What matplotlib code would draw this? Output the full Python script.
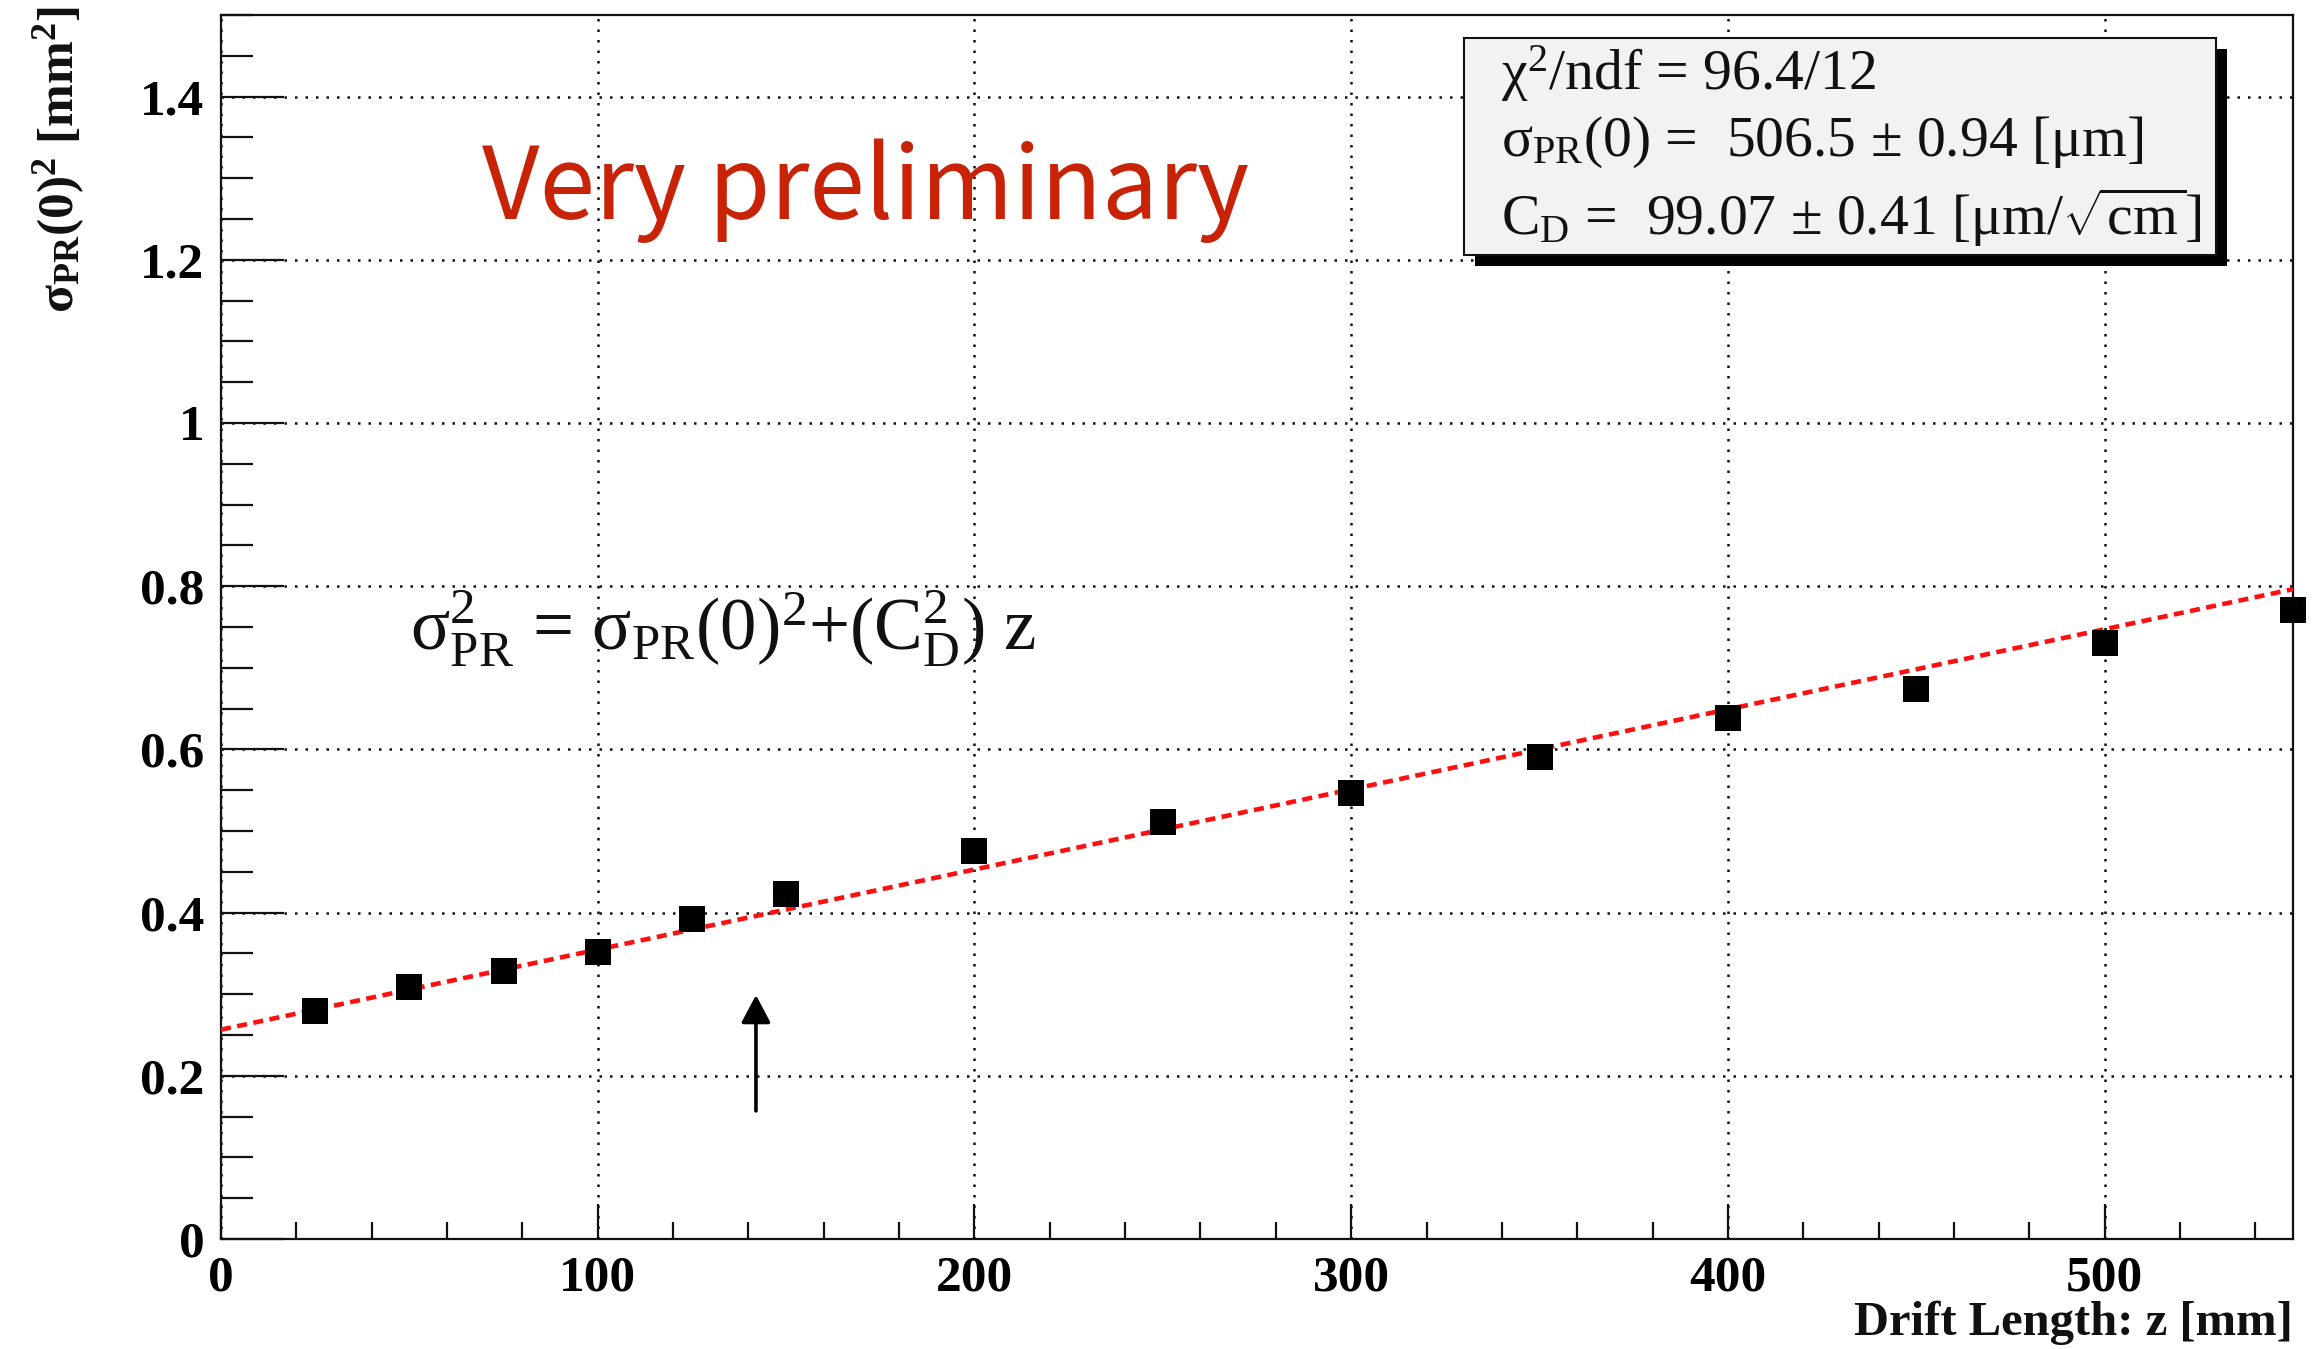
import numpy as np
import matplotlib
matplotlib.use("Agg")
import matplotlib.pyplot as plt
from matplotlib.patches import Rectangle

# ---- measured points -------------------------------------------------------
drift_mm = [25, 50, 75, 100, 125, 150, 200, 250, 300, 350, 400, 450, 500, 550]
sigma2_mm2 = [0.280, 0.309, 0.329, 0.352, 0.392, 0.423, 0.475, 0.511,
              0.547, 0.591, 0.638, 0.674, 0.730, 0.771]

# ---- fit result -------------------------------------------------------------
chi2, ndf = 96.4, 12
sigma0_um, sigma0_err = 506.5, 0.94
cd_um, cd_err = 99.07, 0.41

# arrow marking the point of interest (data coordinates)
arrow_z = 142
arrow_y_tail, arrow_y_head = 0.157, 0.299

plt.rcParams["mathtext.fontset"] = "custom"
plt.rcParams["mathtext.rm"] = "Liberation Serif"
plt.rcParams["mathtext.it"] = "Liberation Serif:italic"
plt.rcParams["mathtext.bf"] = "Liberation Serif:bold"
plt.rcParams["mathtext.default"] = "rm"

W, H = 2312, 1349
fig = plt.figure(figsize=(W / 100, H / 100), dpi=100)


def fx(px):
    return px / W


def fy(py):
    return 1 - py / H


ax = fig.add_axes([fx(221), fy(1239), fx(2293) - fx(221), fy(15) - fy(1239)])
ax.set_xlim(0, 550)
ax.set_ylim(0, 1.5)

# grid
ax.set_xticks([0, 100, 200, 300, 400, 500])
ax.set_yticks([0, 0.2, 0.4, 0.6, 0.8, 1.0, 1.2, 1.4])
ax.set_xticklabels(["0", "100", "200", "300", "400", "500"])
ax.set_yticklabels(["0", "0.2", "0.4", "0.6", "0.8", "1", "1.2", "1.4"])
ax.set_xticks(np.arange(0, 551, 20), minor=True)
ax.set_yticks(np.arange(0, 1.5001, 0.05), minor=True)
ax.grid(True, which="major", color="#111111", linestyle=(0, (1, 3.2)), linewidth=1.8)
ax.set_axisbelow(True)

for s in ax.spines.values():
    s.set_linewidth(1.6)
    s.set_color("#111111")

ax.tick_params(axis="both", which="both", direction="in", width=1.6, color="#111111",
               top=False, right=False)
ax.tick_params(axis="y", which="major", length=45, pad=12)
ax.tick_params(axis="y", which="minor", length=23)
ax.tick_params(axis="x", which="major", length=25, pad=12)
ax.tick_params(axis="x", which="minor", length=12.5)
for lab in ax.get_xticklabels() + ax.get_yticklabels():
    lab.set_fontfamily("Liberation Serif")
    lab.set_fontweight("bold")
    lab.set_fontsize(37)

# fit line  sigma^2 = sigma0^2 + C_D^2 z
z = np.linspace(0, 550, 400)
s0_mm2 = (sigma0_um / 1000.0) ** 2
cd2_mm = (cd_um / 1000.0) ** 2 / 10.0
ax.plot(z, s0_mm2 + cd2_mm * z, color="#ff0f0f", linewidth=3.3,
        linestyle=(0, (2.2, 1.4)), zorder=4)

# data points
ax.plot(drift_mm, sigma2_mm2, linestyle="none", marker="s", markersize=18.5,
        color="black", markeredgewidth=0, zorder=5, clip_on=False)

# arrow
ax.annotate("", xy=(arrow_z, arrow_y_head), xytext=(arrow_z, arrow_y_tail),
            arrowprops=dict(arrowstyle="-|>,head_length=0.85,head_width=0.45",
                            color="black", lw=2.6, mutation_scale=20,
                            shrinkA=0, shrinkB=0))

# fit formula
ax.text(fx(410), fy(650),
        "σ$^{2}_{\\mathrm{PR}}$ = σ$_{\\mathrm{PR}}$(0)$^{2}$+(C$^{2}_{\\mathrm{D}}$) z",
        transform=fig.transFigure, fontsize=52.5, fontfamily="Liberation Serif",
        ha="left", va="baseline", color="#111111")

# watermark
fig.text(fx(482), fy(219), "Very preliminary", fontsize=72,
         fontfamily="Noto Sans CJK JP", color="#c82306", ha="left", va="baseline")

# stats box with shadow
bx0, by0, bx1, by1 = 1464, 38, 2216, 255
shadow = 11
fig.patches.append(Rectangle((fx(bx0 + shadow), fy(by1 + shadow)), fx(bx1 - bx0), (by1 - by0) / H,
                             transform=fig.transFigure, facecolor="black", edgecolor="none",
                             zorder=6))
fig.patches.append(Rectangle((fx(bx0), fy(by1)), fx(bx1 - bx0), (by1 - by0) / H,
                             transform=fig.transFigure, facecolor="#f2f2f2",
                             edgecolor="#111111", linewidth=1.5, zorder=7))
stat_lines = [
    (74, f"χ$^{{2}}$/ndf = {chi2:.1f}/{ndf}"),
    (142, f"σ$_{{\\mathrm{{PR}}}}$(0) =  {sigma0_um:.1f} ± {sigma0_err:.2f} [μm]"),
    (217, f"C$_{{\\mathrm{{D}}}}$ =  {cd_um:.2f} ± {cd_err:.2f} [μm/$\\sqrt{{\\mathrm{{cm}}}}$]"),
]
for ypix, txt in stat_lines:
    fig.text(fx(1501), fy(ypix), txt, fontsize=41.5, fontfamily="Liberation Serif",
             ha="left", va="center", color="#111111", zorder=8)

# axis titles
fig.text(fx(59), fy(6), "σ$_{\\mathbf{PR}}$(0)$^{\\mathbf{2}}$ [mm$^{\\mathbf{2}}$]",
         rotation=90, ha="center", va="top", fontsize=37, fontweight="bold",
         fontfamily="Liberation Serif", color="#111111")
fig.text(fx(2293), fy(1323), "Drift Length: z [mm]", ha="right", va="center",
         fontsize=35, fontweight="bold", fontfamily="Liberation Serif", color="#111111")

fig.savefig("out.png", dpi=100, facecolor="white")
